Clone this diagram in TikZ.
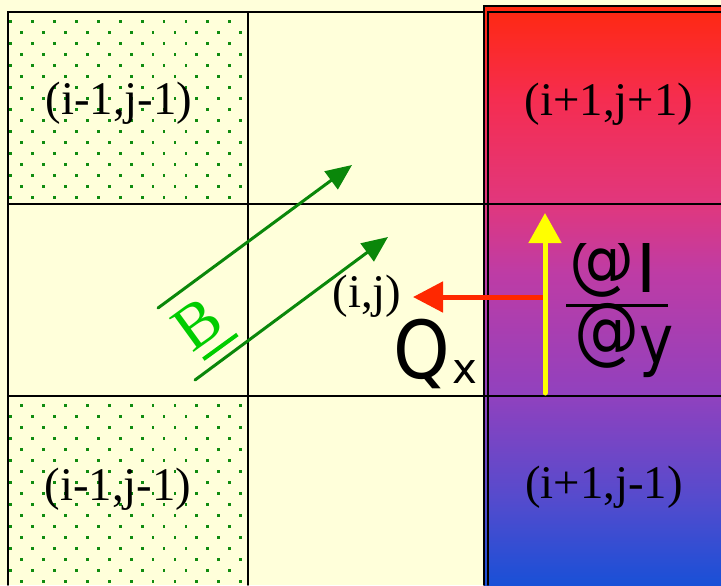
\documentclass[tikz,border=0pt]{standalone}
\usepackage{fontspec}
\setmainfont{Liberation Serif}
\setsansfont{DejaVu Sans}
\usetikzlibrary{arrows.meta}
\definecolor{paper}{RGB}{255,255,218}
\definecolor{dotgreen}{RGB}{16,140,16}
\definecolor{fieldgreen}{RGB}{10,135,10}
\definecolor{bgreen}{RGB}{0,205,0}
\definecolor{fluxred}{RGB}{255,40,0}
\definecolor{gradyellow}{RGB}{255,255,0}
\definecolor{colA}{RGB}{25,80,215}
\definecolor{colB}{RGB}{85,75,205}
\definecolor{colC}{RGB}{145,65,190}
\definecolor{colD}{RGB}{190,60,165}
\definecolor{colE}{RGB}{225,55,125}
\definecolor{colF}{RGB}{245,45,80}
\definecolor{colG}{RGB}{255,40,15}
\pgfdeclareverticalshading{column}{100bp}{color(0bp)=(colA); color(25bp)=(colA);
  color(32.5bp)=(colB); color(41.5bp)=(colC); color(52bp)=(colD);
  color(58bp)=(colE); color(67bp)=(colF); color(75bp)=(colG); color(100bp)=(colG)}
\newcommand\partsign{\raisebox{4pt}{\fontsize{37}{37}\selectfont\scalebox{0.88}[1]{@}}}

\begin{document}
\begin{tikzpicture}[x=0.5pt,y=-0.5pt,line cap=round,
  grid line/.style={line width=0.8pt,black},
  cell label/.style={font=\fontsize{23.4}{28}\selectfont,inner sep=0pt},
  field/.style={fieldgreen,line width=1.5pt,-{Triangle[length=13pt,width=11pt]}},
  frac text/.style={font=\sffamily\fontsize{34}{34}\selectfont,inner sep=0pt,anchor=base west}]
\useasboundingbox (0,0) rectangle (721,585);
\fill[paper] (0,0) rectangle (721,585);
% dotted cells
\begin{scope}
\clip (8,12) rectangle (248,204) (8,396) rectangle (248,585);
\foreach \j in {0,...,51}
  \foreach \i in {0,...,10}
    \fill[dotgreen] ({9.3+21.9*\i+10.95*mod(\j,2)},{20.3+10.97*\j}) rectangle ++(2.8,2.8);
\end{scope}
% right column
\shade[shading=column] (484,6) rectangle (721,585);
\draw[grid line] (8,585) -- (8,12) -- (484,12);
\draw[grid line] (248,12) -- (248,585);
\draw[grid line] (8,204) -- (721,204);
\draw[grid line] (8,396) -- (721,396);
\draw[grid line] (484,585) -- (484,6) -- (721,6);
\draw[grid line] (488,585) -- (488,12) -- (721,12);
% labels
\node[cell label] (ul) at (119,103) {(i-1,j-1)};
\node[cell label] (ll) at (118,489) {(i-1,j-1)};
\node[cell label] (ur) at (609,104) {(i+1,j+1)};
\node[cell label] (lr) at (604,487) {(i+1,j-1)};
\node[cell label] (ij) at (367,296) {(i,j)};
% field lines
\coordinate (fieldA0) at (158,308);
\coordinate (fieldA1) at (352,165);
\coordinate (fieldB0) at (195,380);
\coordinate (fieldB1) at (388,237);
\draw[field] (fieldA0) -- (fieldA1);
\draw[field] (fieldB0) -- (fieldB1);
\node[bgreen,font=\fontsize{32}{34}\selectfont,inner sep=0pt,rotate=36] (bvec) at (203,328)
  {B\kern-18.35pt\rule[-6.5pt]{21pt}{2pt}};
% flux and gradient
\coordinate (fluxtail) at (545,297);
\coordinate (fluxtip) at (413,297);
\draw[fluxred,line width=2.5pt,-{Triangle[length=15pt,width=15pt]}] (fluxtail) -- (fluxtip);
\coordinate (gradtail) at (545,393);
\coordinate (gradtip) at (545,213);
\draw[gradyellow,line width=2.5pt,-{Triangle[length=15pt,width=16pt]}] (gradtail) -- (gradtip);
\node[font=\sffamily\fontsize{40}{40}\selectfont,anchor=base west,inner sep=0pt] (qx) at (393,378)
  {\scalebox{0.9}[1]{Q}\kern1pt\raisebox{-2.5pt}{\fontsize{21}{21}\selectfont x}};
\begin{scope}
\clip (550,243) rectangle (700,400);
\node[frac text] (dI) at (569,292) {\partsign\kern1pt I};
\end{scope}
\draw[line width=1.5pt,line cap=butt] (566,305) -- (668,305);
\node[frac text] (dy) at (574,363) {\partsign\scalebox{0.85}[1]{y}};
\end{tikzpicture}
\end{document}
